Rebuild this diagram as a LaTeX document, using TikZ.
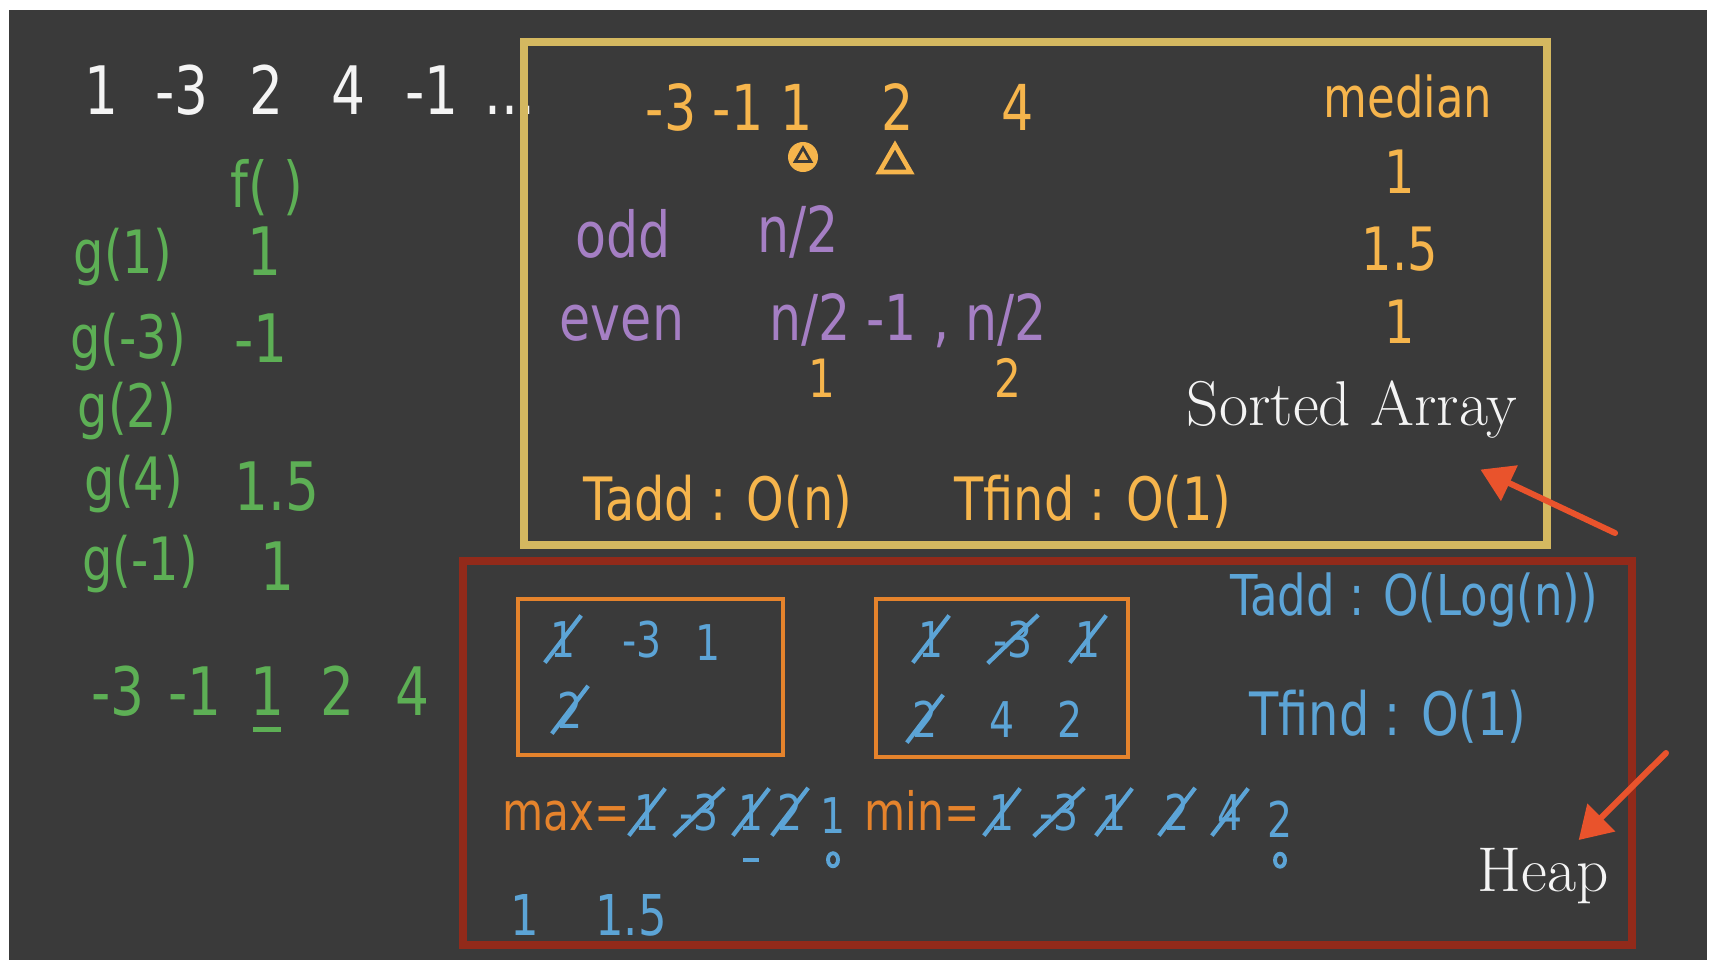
\documentclass[tikz,border=0pt]{standalone}
\usepackage{fontspec}
\usetikzlibrary{arrows.meta, positioning, shapes.geometric, shapes.misc}
\newfontfamily\handfont{DejaVu Sans}[FakeStretch=0.8]
\definecolor{chalkbg}{HTML}{3A3A3A}
\definecolor{chalkwhite}{HTML}{F4F4F4}
\definecolor{chalkgreen}{HTML}{5DAF55}
\definecolor{chalkgold}{HTML}{D4B860}
\definecolor{chalkamber}{HTML}{F6B54C}
\definecolor{chalkpurple}{HTML}{A57FC4}
\definecolor{chalkred}{HTML}{922A1A}
\definecolor{chalkorange}{HTML}{E5832C}
\definecolor{chalkblue}{HTML}{5CA4D6}
\definecolor{chalkarrow}{HTML}{E9532C}
\tikzset{
  mdhand/.style={anchor=base, inner sep=1pt,
                 font=\handfont\fontsize{#1}{#1}\selectfont},
  mdwhite/.style={mdhand=#1, text=chalkwhite},
  mdgreen/.style={mdhand=#1, text=chalkgreen},
  mdamber/.style={mdhand=#1, text=chalkamber},
  mdpurple/.style={mdhand=#1, text=chalkpurple},
  mdorange/.style={mdhand=#1, text=chalkorange},
  mdblue/.style={mdhand=#1, text=chalkblue},
  mdstruck/.style={mdblue=#1, strike out, draw=chalkblue, line width=1.2pt},
  mdmark/.style={ellipse, draw=chalkblue, line width=1.1pt, minimum width=0.1cm,
                 minimum height=0.13cm, inner sep=0pt},
  mdframe/.style={line width=0.08cm},
  mdheapbox/.style={draw=chalkorange, line width=1.3pt},
  mdarrow/.style={draw=chalkarrow, line width=0.06cm, line cap=round,
                  -{Triangle[length=0.32cm, width=0.38cm]}},
  mdlabel/.style={anchor=base, inner sep=2pt, text=chalkwhite,
                  font=\rmfamily\fontsize{18}{18}\selectfont}
}
\begin{document}
\begin{tikzpicture}[x=0.01cm, y=-0.01cm]
  \useasboundingbox (0,0) rectangle (1716,970);
  \fill[white] (0,0) rectangle (1716,970);
  \fill[chalkbg] (8.5,10) rectangle (1707,960);
  % incoming stream and the running medians
  \foreach \name/\x/\txt in {s1/102/1, s2/182/-3, s3/266/2, s4/348/4, s5/432/-1} {
    \node[mdwhite=19] (\name) at (\x,115) {\txt};
  }
  \node[mdwhite=19] (s6) at (510,115) {...};
  \node[mdgreen=18] (fhead) at (267,207) {f( )};
  \foreach \name/\x/\y/\txt in {g1/123/273/g(1), g2/128/358/g(-3), g3/127/427/g(2),
                                g4/134/500/g(4), g5/140/580/g(-1)} {
    \node[mdgreen=17] (\name) at (\x,\y) {\txt};
  }
  \foreach \name/\x/\y/\txt in {f1/264/275/1, f2/261/362/-1, f4/277/510/1.5, f5/277/590/1} {
    \node[mdgreen=19] (\name) at (\x,\y) {\txt};
  }
  \foreach \name/\x/\txt in {t1/118/-3, t2/195/-1, t3/267/1, t4/337/2, t5/412/4} {
    \node[mdgreen=19] (\name) at (\x,715) {\txt};
  }
  \draw[chalkgreen, line width=1.3pt, shorten <=2pt, shorten >=2pt]
    ([yshift=-3pt]t3.south west) -- ([yshift=-3pt]t3.south east);

  \draw[mdframe, chalkgold] (524,42) rectangle (1547,545);
  \foreach \name/\x/\txt in {a1/671/-3, a2/738/-1, a3/797/1, a4/898/2, a5/1018/4} {
    \node[mdamber=18] (\name) at (\x,130) {\txt};
  }
  \node[circle, fill=chalkamber, minimum size=0.3cm, inner sep=0pt] (lowmark) at (803,157) {};
  \node[regular polygon, regular polygon sides=3, draw=chalkbg, line width=0.8pt,
        minimum size=0.18cm, inner sep=0pt] at (lowmark) {};
  \node[regular polygon, regular polygon sides=3, draw=chalkamber, line width=1.3pt,
        minimum size=0.36cm, inner sep=0pt] (highmark) at (895,163) {};
  \node[mdamber=16] (medhead) at (1408,118) {median};
  \foreach \name/\y/\txt in {m1/193/1, m2/270/1.5, m3/343/1} {
    \node[mdamber=17] (\name) at (1400,\y) {\txt};
  }
  \node[mdpurple=18] (odd) at (623,257) {odd};
  \node[mdpurple=18] (oddidx) at (798,252) {n/2};
  \node[mdpurple=18] (even) at (622,340) {even};
  \node[mdpurple=18] (evenidx) at (908,340) {n/2 -1 , n/2};
  \node[mdamber=15] (evenlo) at (822,397) {1};
  \node[mdamber=15] (evenhi) at (1008,397) {2};
  \node[mdamber=17] (saadd) at (718,520) {Tadd : O(n)};
  \node[mdamber=17] (safind) at (1093,520) {Tfind : O(1)};
  \node[mdlabel] (sorted) at (1352,425) {Sorted Array};

  \draw[mdframe, chalkred] (463,561) rectangle (1632,945);
  \draw[mdheapbox] (518,599) rectangle (783,755);
  \draw[mdheapbox] (876,599) rectangle (1128,757);
  \foreach \name/\x/\y/\txt in {h1/563/657/1, h2/570/728/2, k1/931/657/1, k2/1013/657/-3,
                                k3/1088/657/1, k4/925/737/2} {
    \node[mdstruck=14] (\name) at (\x,\y) {\txt};
  }
  \foreach \name/\x/\y/\txt in {h3/642/657/-3, h4/708/660/1, k5/1002/737/4, k6/1070/737/2} {
    \node[mdblue=14] (\name) at (\x,\y) {\txt};
  }
  \node[mdorange=15] (maxhead) at (566,830) {max=};
  \node[mdorange=15] (minhead) at (922,830) {min=};
  \foreach \name/\x/\txt in {x1/647/1, x2/699/-3, x3/751/1, x4/790/2,
                             n1/1002/1, n2/1059/-3, n3/1114/1, n4/1177/2, n5/1230/4} {
    \node[mdstruck=14] (\name) at (\x,830) {\txt};
  }
  \draw[chalkblue, line width=1.2pt, shorten <=3pt, shorten >=3pt]
    ([yshift=-7pt]x3.south west) -- ([yshift=-7pt]x3.south east);
  \node[mdblue=14] (xlast) at (833,833) {1};
  \node[mdblue=14] (nlast) at (1280,837) {2};
  \node[mdmark, below=4pt of xlast] (xmark) {};
  \node[mdmark, below=3pt of nlast] (nmark) {};
  \node[mdblue=16] (med1) at (525,935) {1};
  \node[mdblue=16] (med2) at (631,935) {1.5};
  \node[mdblue=16] (hpadd) at (1414,615) {Tadd : O(Log(n))};
  \node[mdblue=17] (hpfind) at (1388,735) {Tfind : O(1)};
  \node[mdlabel] (heaplbl) at (1543,891) {Heap};

  \coordinate (satail) at (1615,533);
  \coordinate (hptail) at (1666,753);
  \draw[mdarrow, shorten >=16pt] (satail) -- (sorted);
  \draw[mdarrow] (hptail) -- (heaplbl);
\end{tikzpicture}
\end{document}
